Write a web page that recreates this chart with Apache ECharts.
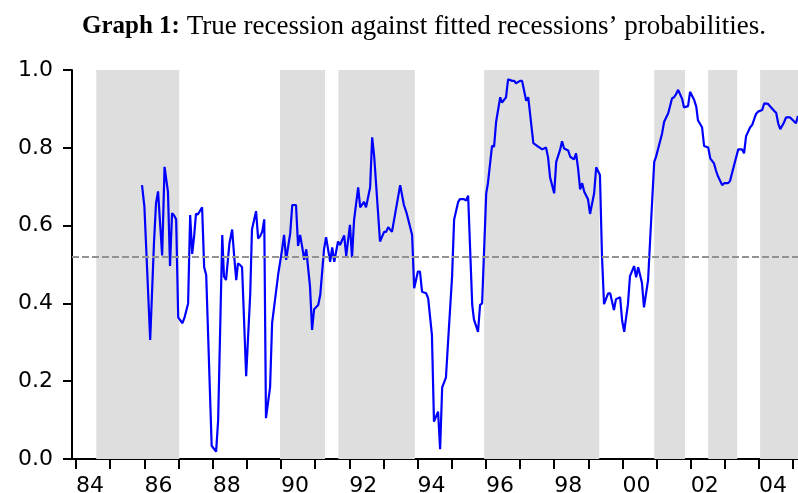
<!DOCTYPE html>
<html>

<head>
  <meta charset="utf-8">
  <title>ECharts</title>
  <script src="https://cdn.jsdelivr.net/npm/echarts@6/dist/echarts.min.js"></script>
</head>

<body style="margin:0">
  <div id="main" style="width: 798px;height:493px;"></div>
  <script type="text/javascript">
    // fitted recession probability (x = decimal year)
    var years = [
      1985.93, 1986.00, 1986.17, 1986.28, 1986.34, 1986.40, 1986.52, 1986.59, 1986.69, 1986.75,
      1986.81, 1986.87, 1986.93, 1986.99, 1987.11, 1987.17, 1987.28, 1987.34, 1987.40, 1987.46,
      1987.51, 1987.57, 1987.63, 1987.69, 1987.75, 1987.81, 1987.97, 1988.10, 1988.16, 1988.28,
      1988.33, 1988.39, 1988.49, 1988.57, 1988.63, 1988.69, 1988.74, 1988.80, 1988.86, 1988.98,
      1989.10, 1989.15, 1989.27, 1989.33, 1989.39, 1989.45, 1989.51, 1989.56, 1989.68, 1989.74,
      1989.92, 1990.03, 1990.09, 1990.15, 1990.27, 1990.33, 1990.44, 1990.50, 1990.56, 1990.62,
      1990.68, 1990.74, 1990.85, 1990.91, 1990.97, 1991.09, 1991.15, 1991.26, 1991.32, 1991.44,
      1991.50, 1991.56, 1991.67, 1991.73, 1991.85, 1991.91, 1992.02, 1992.08, 1992.14, 1992.26,
      1992.32, 1992.43, 1992.49, 1992.61, 1992.67, 1992.73, 1992.90, 1993.02, 1993.08, 1993.14,
      1993.25, 1993.49, 1993.60, 1993.68, 1993.84, 1993.90, 1994.01, 1994.07, 1994.13, 1994.25,
      1994.31, 1994.42, 1994.48, 1994.60, 1994.66, 1994.72, 1994.83, 1994.89, 1995.01, 1995.07,
      1995.19, 1995.24, 1995.36, 1995.42, 1995.48, 1995.54, 1995.60, 1995.65, 1995.77, 1995.83,
      1995.89, 1996.01, 1996.06, 1996.18, 1996.24, 1996.30, 1996.42, 1996.47, 1996.59, 1996.65,
      1996.77, 1996.83, 1996.88, 1997.00, 1997.06, 1997.18, 1997.24, 1997.39, 1997.53, 1997.65,
      1997.76, 1997.82, 1997.88, 1998.00, 1998.06, 1998.17, 1998.23, 1998.29, 1998.41, 1998.47,
      1998.58, 1998.64, 1998.70, 1998.76, 1998.82, 1998.88, 1998.99, 1999.05, 1999.17, 1999.23,
      1999.34, 1999.40, 1999.46, 1999.58, 1999.64, 1999.75, 1999.81, 1999.93, 1999.99, 2000.05,
      2000.16, 2000.22, 2000.34, 2000.40, 2000.46, 2000.57, 2000.63, 2000.75, 2000.81, 2000.93,
      2000.98, 2001.16, 2001.22, 2001.34, 2001.45, 2001.51, 2001.57, 2001.63, 2001.75, 2001.80,
      2001.92, 2001.98, 2002.10, 2002.16, 2002.21, 2002.33, 2002.39, 2002.51, 2002.57, 2002.62,
      2002.68, 2002.74, 2002.80, 2002.92, 2002.98, 2003.09, 2003.15, 2003.27, 2003.39, 2003.50,
      2003.56, 2003.62, 2003.74, 2003.80, 2003.91, 2003.97, 2004.09, 2004.15, 2004.26, 2004.32,
      2004.44, 2004.50, 2004.56, 2004.62, 2004.73, 2004.79, 2004.91, 2005.08, 2005.14
    ];
    var probs = [
      0.704, 0.649, 0.306, 0.554, 0.657, 0.688, 0.523, 0.751, 0.687, 0.496,
      0.632, 0.626, 0.616, 0.364, 0.349, 0.362, 0.400, 0.627, 0.527, 0.576,
      0.630, 0.629, 0.638, 0.647, 0.493, 0.473, 0.034, 0.019, 0.100, 0.576,
      0.469, 0.460, 0.554, 0.590, 0.520, 0.460, 0.503, 0.499, 0.493, 0.213,
      0.426, 0.590, 0.637, 0.567, 0.573, 0.584, 0.616, 0.105, 0.184, 0.349,
      0.476, 0.537, 0.576, 0.512, 0.580, 0.653, 0.653, 0.548, 0.576, 0.546,
      0.512, 0.539, 0.443, 0.332, 0.385, 0.396, 0.422, 0.539, 0.570, 0.507,
      0.544, 0.507, 0.559, 0.550, 0.575, 0.522, 0.602, 0.518, 0.614, 0.698,
      0.647, 0.661, 0.647, 0.698, 0.827, 0.777, 0.559, 0.584, 0.584, 0.596,
      0.584, 0.704, 0.653, 0.632, 0.576, 0.439, 0.482, 0.482, 0.430, 0.426,
      0.413, 0.319, 0.096, 0.122, 0.025, 0.184, 0.209, 0.297, 0.469, 0.616,
      0.661, 0.668, 0.668, 0.664, 0.677, 0.537, 0.396, 0.359, 0.327, 0.396,
      0.400, 0.683, 0.709, 0.805, 0.803, 0.867, 0.930, 0.916, 0.930, 0.976,
      0.972, 0.972, 0.966, 0.972, 0.972, 0.921, 0.930, 0.812, 0.803, 0.796,
      0.801, 0.776, 0.724, 0.683, 0.764, 0.794, 0.817, 0.798, 0.793, 0.777,
      0.770, 0.786, 0.747, 0.693, 0.709, 0.687, 0.668, 0.630, 0.683, 0.750,
      0.730, 0.522, 0.398, 0.426, 0.426, 0.383, 0.411, 0.416, 0.356, 0.327,
      0.398, 0.470, 0.496, 0.467, 0.493, 0.453, 0.390, 0.460, 0.563, 0.764,
      0.776, 0.837, 0.867, 0.889, 0.927, 0.930, 0.938, 0.949, 0.925, 0.904,
      0.907, 0.944, 0.923, 0.906, 0.871, 0.853, 0.805, 0.801, 0.773, 0.776,
      0.760, 0.741, 0.726, 0.704, 0.709, 0.709, 0.715, 0.756, 0.796, 0.796,
      0.786, 0.830, 0.853, 0.859, 0.887, 0.893, 0.897, 0.914, 0.913, 0.907,
      0.895, 0.890, 0.863, 0.848, 0.865, 0.878, 0.878, 0.863, 0.882
    ];
    // true recession periods (shaded)
    var recStart = [1984.59, 1989.97, 1991.68, 1995.95, 2000.93, 2002.51, 2004.03];
    var recEnd = [1987.02, 1991.29, 1993.92, 1999.32, 2001.83, 2003.36, 2005.14];
    var threshold = 0.522;
    var tickYears = [1984, 1985, 1986, 1987, 1988, 1989, 1990, 1991, 1992, 1993, 1994,
      1995, 1996, 1997, 1998, 1999, 2000, 2001, 2002, 2003, 2004, 2005];
    var labelYears = [1984, 1986, 1988, 1990, 1992, 1994, 1996, 1998, 2000, 2002, 2004];

    var myChart = echarts.init(document.getElementById('main'));

    var lineData = [];
    for (var i = 0; i < years.length; i++) {
      lineData.push([years[i], probs[i]]);
    }
    var areas = [];
    for (var j = 0; j < recStart.length; j++) {
      areas.push([{ xAxis: recStart[j] }, { xAxis: recEnd[j] }]);
    }

    var option = {
      animation: false,
      title: {
        text: '{b|Graph 1:} True recession against fitted recessions\u2019 probabilities.',
        left: 82,
        top: 13,
        padding: 0,
        textStyle: {
          fontFamily: 'Liberation Serif',
          fontSize: 27,
          fontWeight: 'normal',
          color: '#000',
          rich: {
            b: { fontFamily: 'Liberation Serif', fontSize: 25, fontWeight: 'bold', color: '#000' }
          }
        }
      },
      grid: { left: 72, right: 0, top: 70, bottom: 34, containLabel: false, outerBoundsMode: 'none' },
      xAxis: {
        type: 'value',
        min: 1983.88,
        max: 2005.14,
        splitLine: { show: false },
        axisLine: { lineStyle: { color: '#000', width: 2 } },
        axisTick: {
          customValues: tickYears,
          length: 10,
          lineStyle: { color: '#000', width: 2 }
        },
        axisLabel: {
          customValues: labelYears,
          align: 'left',
          margin: 16,
          fontFamily: 'DejaVu Sans',
          fontSize: 22,
          color: '#000',
          formatter: function (v) {
            var s = String(Math.round(v) % 100);
            return s.length < 2 ? '0' + s : s;
          }
        }
      },
      yAxis: {
        type: 'value',
        min: 0,
        max: 1,
        interval: 0.2,
        splitLine: { show: false },
        axisLine: { show: true, lineStyle: { color: '#000', width: 2 } },
        axisTick: { show: true, length: 9, lineStyle: { color: '#000', width: 2 } },
        axisLabel: {
          margin: 19,
          fontFamily: 'DejaVu Sans',
          fontSize: 22,
          color: '#000',
          formatter: function (v) { return v.toFixed(1); }
        }
      },
      series: [{
        type: 'line',
        data: [],
        z: 1,
        silent: true,
        markArea: {
          silent: true,
          itemStyle: { color: '#dedede' },
          data: areas
        },
        markLine: {
          silent: true,
          symbol: 'none',
          label: { show: false },
          lineStyle: { color: '#929292', width: 2, type: [7, 3] },
          data: [{ yAxis: threshold }]
        }
      }, {
        type: 'line',
        data: lineData,
        z: 3,
        showSymbol: false,
        lineStyle: { color: '#0000ff', width: 2.2 }
      }]
    };

    myChart.setOption(option);
  </script>
</body>

</html>
